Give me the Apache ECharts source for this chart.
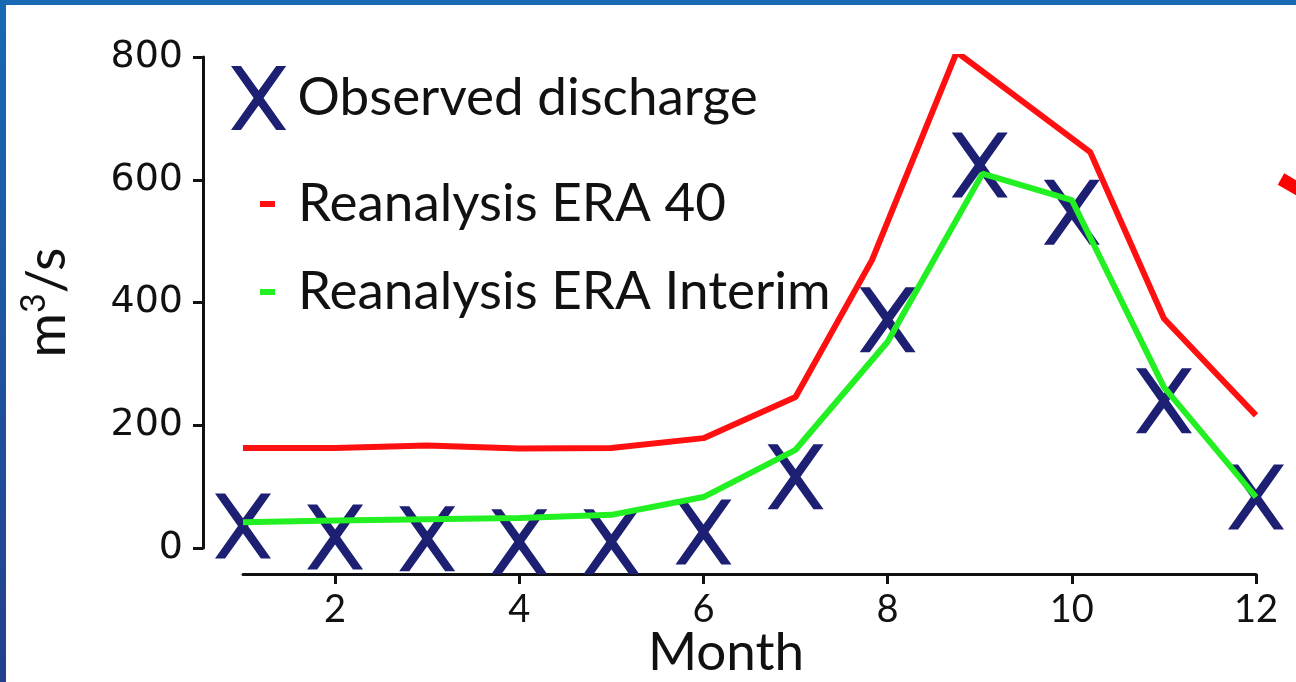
<!DOCTYPE html>
<html><head><meta charset="utf-8">
<script src="https://cdn.jsdelivr.net/npm/echarts@6/dist/echarts.min.js"></script>
<style>html,body{margin:0;padding:0;background:#fff}#c{width:1296px;height:682px}</style>
</head><body><div id="c"></div>
<script>
// ---- data ----
const months = [1, 2, 3, 4, 5, 6, 7, 8, 9, 10, 11, 12];
const observed = [36, 18, 15, 10, 10, 26, 116, 372, 624, 547, 240, 83];
const era40Month = [1, 2, 3, 4, 5, 6, 7, 7.83, 8.75, 10.2, 11, 12];
const era40 = [163, 163, 167, 162, 163, 179, 246, 469, 808, 645, 374, 216];
const interimMonth = [1, 2, 3, 4, 5, 6, 7, 8, 9.03, 10, 11, 12];
const interim = [42, 45, 47, 49, 54, 83, 160, 336, 610, 567, 262, 83];
const xTicks = [2, 4, 6, 8, 10, 12];
const yTicks = [0, 200, 400, 600, 800];
const names = ['Observed discharge', 'Reanalysis ERA 40', 'Reanalysis ERA Interim'];

const NAVY = '#1d1f72', RED = '#ff1010', GREEN = '#22f022';
const XPATH = 'path://M0,0 L18,0 L50,44.5 L82,0 L100,0 L59,58 L100,116 L82,116 L50,71.5 L18,116 L0,116 L41,58 Z';
const FONT = 'Lato';

const chart = echarts.init(document.getElementById('c'), null, {renderer: 'canvas'});
const legendText = {fontFamily: FONT, fontSize: 53, color: '#111', lineHeight: 62};
chart.setOption({
  backgroundColor: '#fff',
  animation: false,
  grid: {left: 243, right: 40, top: 57, bottom: 134, containLabel: false, outerBoundsMode: 'none'},
  xAxis: {
    type: 'value', min: 1, max: 12,
    offset: 26,
    name: 'Month', nameLocation: 'middle', nameGap: 52, nameMoveOverlap: false,
    nameTextStyle: {fontFamily: FONT, fontSize: 53, color: '#111', padding: [0, 47, 0, 0]},
    axisLine: {show: true, onZero: false, lineStyle: {color: '#111', width: 3}},
    axisTick: {show: true, length: 10, lineStyle: {color: '#111', width: 3}, customValues: xTicks},
    axisLabel: {color: '#111', fontFamily: FONT, fontSize: 38, margin: 17, customValues: xTicks},
    splitLine: {show: false}
  },
  yAxis: {
    type: 'value', min: yTicks[0], max: yTicks[yTicks.length - 1], interval: 200,
    offset: 40,
    name: 'm{s|3}/s', nameLocation: 'middle', nameRotate: 90, nameGap: 124,
    nameTextStyle: {fontFamily: FONT, fontSize: 54, color: '#111', lineHeight: 62,
      rich: {s: {fontFamily: FONT, fontSize: 34, color: '#111', lineHeight: 36, verticalAlign: 'top'}}},
    axisLine: {show: true, onZero: false, lineStyle: {color: '#111', width: 3}},
    axisTick: {show: true, length: 10, lineStyle: {color: '#111', width: 3}},
    axisLabel: {color: '#111', fontFamily: 'DejaVu Sans', fontSize: 38, margin: 20},
    splitLine: {show: false}
  },
  legend: [
    {left: 226, top: 61, orient: 'vertical', itemWidth: 56, itemHeight: 64,
     data: [{name: names[0], icon: XPATH, itemStyle: {color: NAVY}}],
     textStyle: Object.assign({padding: [0, 0, 0, 6]}, legendText)},
    {left: 255, top: 168, orient: 'vertical', itemWidth: 15, itemHeight: 6,
     data: [{name: names[1], icon: 'rect', itemStyle: {color: RED}}],
     textStyle: Object.assign({padding: [0, 0, 0, 18]}, legendText)},
    {left: 255, top: 256, orient: 'vertical', itemWidth: 15, itemHeight: 6,
     data: [{name: names[2], icon: 'rect', itemStyle: {color: GREEN}}],
     textStyle: Object.assign({padding: [0, 0, 0, 18]}, legendText)}
  ],
  series: [
    {name: names[0], type: 'scatter', z: 2,
     symbol: XPATH, symbolSize: [56, 65],
     itemStyle: {color: NAVY, opacity: 1},
     data: months.map((m, i) => [m, observed[i]])},
    {name: names[1], type: 'line', z: 3, symbol: 'none',
     lineStyle: {color: RED, width: 6}, itemStyle: {color: RED},
     data: era40Month.map((m, i) => [m, era40[i]])},
    {name: names[2], type: 'line', z: 4, symbol: 'none',
     lineStyle: {color: GREEN, width: 6}, itemStyle: {color: GREEN},
     data: interimMonth.map((m, i) => [m, interim[i]])}
  ],
  graphic: [
    {type: 'rect', shape: {x: 0, y: 0, width: 1296, height: 5}, style: {fill: '#1769b3'}, z: 100},
    {type: 'rect', shape: {x: 0, y: 0, width: 6, height: 682},
     style: {fill: new echarts.graphic.LinearGradient(0, 0, 0, 1, [{offset: 0, color: '#1769b3'}, {offset: 1, color: '#243f8d'}])}, z: 100},
    {type: 'line', shape: {x1: 1281, y1: 179, x2: 1300, y2: 190}, style: {stroke: '#ff0000', lineWidth: 13}, z: 100}
  ]
});
</script>
</body></html>
